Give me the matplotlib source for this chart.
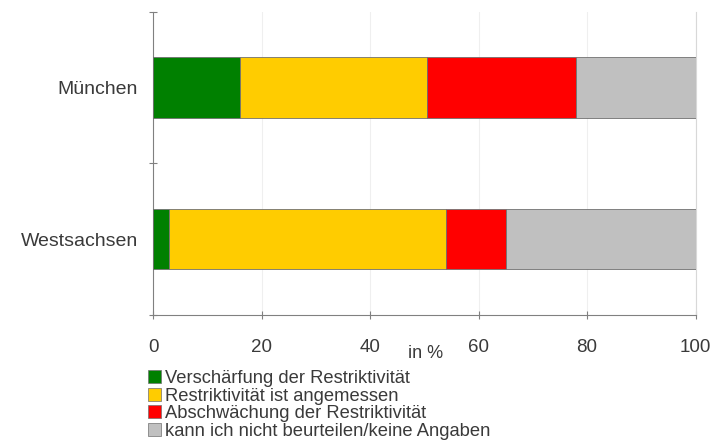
import numpy as np
import matplotlib.pyplot as plt
from matplotlib.patches import Patch

plt.rcParams['font.family'] = ['Liberation Sans', 'DejaVu Sans']

# survey answers per region, in %
regions = ['Westsachsen', 'München']
answers = ['Verschärfung der Restriktivität',
           'Restriktivität ist angemessen',
           'Abschwächung der Restriktivität',
           'kann ich nicht beurteilen/keine Angaben']
verschaerfung = [3, 16]
angemessen = [51, 34.5]
abschwaechung = [11, 27.5]
keine_angabe = [35, 22]
colors = ['#008000', '#ffcc00', '#ff0000', '#c0c0c0']
xticks = [0, 20, 40, 60, 80, 100]

txt = '#3a3a3a'

fig = plt.figure(figsize=(7.13, 4.43), dpi=100)
ax = fig.add_axes([0.2146, 0.289, 0.761, 0.6846])

y = np.arange(len(regions))
left = np.zeros(len(regions))
for vals, col in zip([verschaerfung, angemessen, abschwaechung, keine_angabe], colors):
    ax.barh(y, vals, left=left, height=0.4, color=col, edgecolor='#707070', lw=0.6, zorder=3)
    left += np.array(vals)

ax.set_xlim(0, 100)
ax.set_ylim(-0.5, 1.5)
ax.set_xticks(xticks)
ax.set_xticklabels([str(t) for t in xticks], fontsize=13.5, color=txt)
ax.xaxis.grid(True, color='#efefef', lw=0.8, zorder=0)

# category boundaries get the tick marks, names sit between them
ax.set_yticks([-0.5, 0.5, 1.5])
ax.set_yticklabels([])
ax.set_yticks(y, minor=True)
ax.set_yticklabels(regions, minor=True, fontsize=14, color=txt)
ax.tick_params(axis='y', which='minor', length=0, pad=11)
ax.tick_params(axis='both', which='major', direction='inout', length=6, width=0.8, color='#808080')
ax.tick_params(axis='x', pad=14)

for s in ['left', 'bottom']:
    ax.spines[s].set_color('#808080')
ax.spines['right'].set_color('#d8d8d8')
ax.spines['top'].set_visible(False)

fig.text(426/713, 1 - 354/443, 'in %', fontsize=13, color=txt, ha='center', va='center')

handles = [Patch(facecolor=c, edgecolor='#707070', lw=0.5) for c in colors]
fig.legend(handles, answers, loc='upper left', bbox_to_anchor=(148/713, 1 - 370/443),
           frameon=False, fontsize=13.2, labelcolor=txt, handlelength=0.7, handleheight=0.7,
           handletextpad=0.25, labelspacing=0.03, borderaxespad=0, borderpad=0)

fig.savefig('out.png', dpi=100)
